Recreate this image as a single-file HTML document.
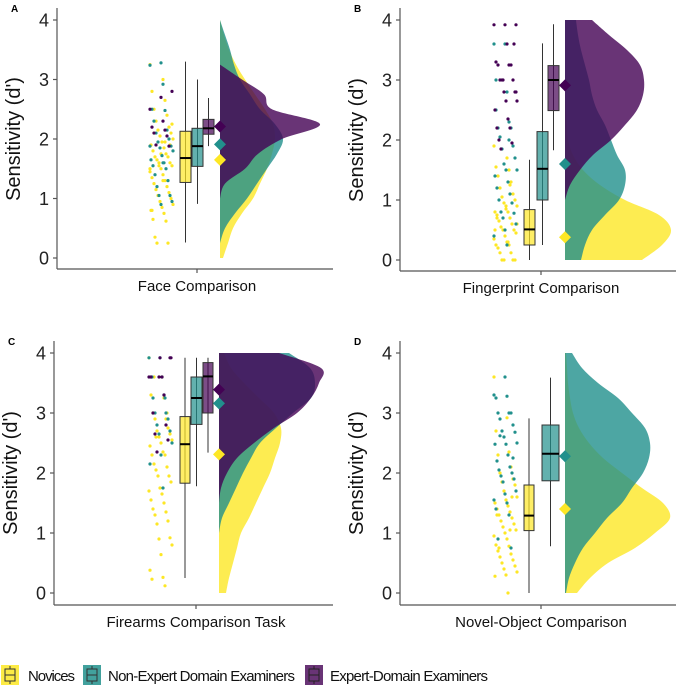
<!DOCTYPE html>
<html><head><meta charset="utf-8"><style>
html,body{margin:0;padding:0;background:#fff;}
svg{display:block;font-family:"Liberation Sans",Arial,sans-serif;}
</style></head><body>
<svg id="chart" width="685" height="689" viewBox="0 0 685 689" xmlns="http://www.w3.org/2000/svg">
<g id="panels"></g>
<g id="legend">
  <g>
    <rect x="1" y="665" width="18" height="20" fill="#FDE725" opacity="0.85"/>
    <rect x="5" y="669" width="10" height="12" fill="none" stroke="#333" stroke-width="1"/>
    <line x1="10" y1="666" x2="10" y2="669" stroke="#333"/><line x1="10" y1="681" x2="10" y2="684" stroke="#333"/><line x1="5" y1="675" x2="15" y2="675" stroke="#333"/>
    <text x="28" y="681" font-size="15" textLength="47" fill="#111">Novices</text>
  </g>
  <g>
    <rect x="83" y="665" width="18" height="20" fill="#21908C" opacity="0.85"/>
    <rect x="87" y="669" width="10" height="12" fill="none" stroke="#333" stroke-width="1"/>
    <line x1="92" y1="666" x2="92" y2="669" stroke="#333"/><line x1="92" y1="681" x2="92" y2="684" stroke="#333"/><line x1="87" y1="675" x2="97" y2="675" stroke="#333"/>
    <text x="108" y="681" font-size="15" textLength="187" fill="#111">Non-Expert Domain Examiners</text>
  </g>
  <g>
    <rect x="305" y="665" width="18" height="20" fill="#440154" opacity="0.8"/>
    <rect x="309" y="669" width="10" height="12" fill="none" stroke="#222" stroke-width="1"/>
    <line x1="314" y1="666" x2="314" y2="669" stroke="#222"/><line x1="314" y1="681" x2="314" y2="684" stroke="#222"/><line x1="309" y1="675" x2="319" y2="675" stroke="#222"/>
    <text x="330" y="681" font-size="15" textLength="158" fill="#111">Expert-Domain Examiners</text>
  </g>
</g>
</svg>
<script>
// ---- data ----
const groups = ['novices','non-expert','expert'];
const colors = ['#FDE725','#21908C','#440154'];
const densityGrid = [0,0.25,0.5,0.75,1,1.25,1.5,1.75,2,2.25,2.5,2.75,3,3.25,3.5,3.75,4];
const yTicks = [0,1,2,3,4];
const panelTitles = ['Face Comparison','Fingerprint Comparison','Firearms Comparison Task','Novel-Object Comparison'];
const panelLetters = ['A','B','C','D'];

// density widths (px) at densityGrid values
const densA_nov = [3,8,13,22,33,40,47,52,55,53,45,35,25,16,9,4,0];
const densA_non = [0,0,5,15,27,37,47,57,63,55,40,30,20,14,10,5,0];
const densA_exp = [0,0,0,0,0,5,25,38,62,100,52,44,22,0,0,0,0];
const densB_nov = [77,97,106,94,60,35,18,8,3,2,1,0,0,0,0,0,0];
const densB_non = [16,20,27,40,54,60,60,52,46,40,32,27,24,20,16,13,11];
const densB_exp = [0,0,0,0,0,5,15,28,46,60,72,78,79,75,62,44,27];
const densC_nov = [7,10,14,18,22,30,37,44,51,56,61,62,55,40,25,12,5];
const densC_non = [0,0,0,0,0,3,10,17,24,32,41,57,74,92,96,91,70];
const densC_exp = [0,0,0,0,0,0,0,2,8,18,35,55,78,92,100,102,60];
const densD_nov = [12,25,43,70,90,105,98,77,57,38,24,14,8,5,3,2,1];
const densD_non = [1,4,10,18,30,42,57,67,78,84,85,80,67,53,33,17,7];

// box stats [min,q1,median,q3,max]
const boxA = [[0.26,1.27,1.68,2.13,3.3],[0.91,1.54,1.88,2.18,3.0],[1.88,2.08,2.18,2.33,2.69]];
const boxB = [[0,0.25,0.51,0.84,1.67],[0.25,1.0,1.52,2.14,3.61],[1.83,2.49,3.0,3.24,3.93]];
const boxC = [[0.25,1.83,2.48,2.94,3.92],[1.78,2.81,3.25,3.6,3.92],[2.34,3.0,3.61,3.84,3.92]];
const boxD = [[0,1.04,1.29,1.8,2.91],[0.78,1.87,2.32,2.8,3.59]];

// group means
const meanA = [1.65,1.91,2.21];
const meanB = [0.38,1.6,2.91];
const meanC = [2.31,3.16,3.39];
const meanD = [1.40,2.28];

// raw points
const ptsA_nov = [3.25,3.0,2.8,2.65,2.5,2.4,2.3,2.2,2.15,2.1,2.05,2.0,1.95,1.9,1.85,1.8,1.75,1.7,1.7,1.65,1.6,1.55,1.55,1.5,1.45,1.4,1.35,1.3,1.25,1.2,1.15,1.1,1.05,1.0,0.95,0.9,0.85,0.8,0.75,0.65,0.62,0.35,0.25,0.25,1.9,1.6,2.25,1.75,1.5,1.3,0.8,1.95,2.1];
const ptsA_non = [3.28,3.24,2.92,2.5,2.48,2.3,2.15,2.1,2.0,1.95,1.88,1.85,1.8,1.72,1.65,1.6,1.55,1.5,1.4,1.3,1.2,1.05,1.05,0.95,0.9,1.88,1.6];
const ptsA_exp = [2.8,2.7,2.5,2.3,2.2,2.15,2.1,2.05,1.9,1.88];
const ptsB_nov = [1.9,1.7,1.55,1.5,1.4,1.3,1.2,1.1,1.05,1.0,0.95,0.9,0.85,0.8,0.8,0.75,0.7,0.65,0.6,0.55,0.5,0.5,0.45,0.4,0.35,0.3,0.25,0.25,0.2,0.12,0.12,0,0,0,0,0.6,0.9,0.5,0.3,0.7,1.25];
const ptsB_non = [3.6,3.6,2.8,2.5,2.3,2.2,2.2,2.05,1.9,1.85,1.7,1.6,1.5,1.5,1.4,1.3,1.2,1.1,1.0,0.95,0.8,0.78,0.7,0.6,0.5,0.4,0.25,3.0,2.0];
const ptsB_exp = [3.92,3.92,3.92,3.6,3.3,3.25,3.25,3.25,3.0,3.0,3.0,2.8,2.8,2.65,2.65,2.5,2.35,2.2,2.2,2.0,1.95,1.85,3.6,3.0,2.8];
const ptsC_nov = [3.92,3.6,3.3,3.25,3.0,2.9,2.9,2.75,2.7,2.65,2.6,2.55,2.5,2.45,2.35,2.3,2.3,2.15,2.1,2.05,1.95,1.95,1.85,1.75,1.7,1.65,1.55,1.5,1.4,1.35,1.3,1.2,1.15,0.92,0.9,0.8,0.64,0.38,0.26,0.23,0.12,3.6,3.0,2.6];
const ptsC_non = [3.92,3.92,3.6,3.6,3.3,3.25,3.0,3.0,2.9,2.8,2.7,2.65,2.5,2.3,2.15,1.75,3.6,3.25];
const ptsC_exp = [3.92,3.92,3.6,3.6,3.6,3.3,3.0,2.8,2.65,2.55,2.35,3.92,3.6];
const ptsD_nov = [3.6,2.92,2.7,2.35,2.3,2.1,2.0,1.9,1.85,1.8,1.7,1.6,1.55,1.5,1.45,1.4,1.35,1.3,1.25,1.2,1.15,1.1,1.05,1.0,0.95,0.9,0.8,0.78,0.7,0.65,0.6,0.55,0.5,0.45,0.4,0.35,0.3,0.28,0.0,1.3,1.05,0.75,1.6];
const ptsD_non = [3.6,3.3,3.28,3.25,3.0,3.0,3.0,2.9,2.8,2.7,2.68,2.6,2.5,2.48,2.48,2.3,2.2,2.1,2.05,2.0,1.95,1.9,1.85,1.7,1.65,1.55,1.5,1.4,1.3,0.9,0.75,2.62,2.25];

// ---- layout ----
const NS='http://www.w3.org/2000/svg';
const panels = [
 {axisX:57, tick:197, top:20, bot:258, xAxisY:269, right:333, dens:[densA_nov,densA_non,densA_exp], box:boxA, mean:meanA, pts:[ptsA_nov,ptsA_non,ptsA_exp], boxPos:[[-17,-6],[-5,6],[6,17]], base:23},
 {axisX:400, tick:541, top:20, bot:260, xAxisY:271, right:676, dens:[densB_nov,densB_non,densB_exp], box:boxB, mean:meanB, pts:[ptsB_nov,ptsB_non,ptsB_exp], boxPos:[[-17,-6],[-4,7],[7,18]], base:24},
 {axisX:54, tick:196, top:353, bot:593, xAxisY:605, right:333, dens:[densC_nov,densC_non,densC_exp], box:boxC, mean:meanC, pts:[ptsC_nov,ptsC_non,ptsC_exp], boxPos:[[-16,-6],[-5,6],[7,17]], base:23},
 {axisX:400, tick:541, top:353, bot:593, xAxisY:605, right:676, dens:[densD_nov,densD_non], box:boxD, mean:meanD, pts:[ptsD_nov,ptsD_non], boxPos:[[-17,-7],[1,18]], base:24}
];
const root=document.getElementById('panels');
function mk(tag,attrs,parent){const e=document.createElementNS(NS,tag);for(const k in attrs)e.setAttribute(k,attrs[k]);parent.appendChild(e);return e;}
function smoothPath(pts){
  let d='M'+pts[0][0]+','+pts[0][1];
  for(let i=0;i<pts.length-1;i++){
    const p0=pts[Math.max(0,i-1)],p1=pts[i],p2=pts[i+1],p3=pts[Math.min(pts.length-1,i+2)];
    const c1=[p1[0]+(p2[0]-p0[0])/6,p1[1]+(p2[1]-p0[1])/6];
    const c2=[p2[0]-(p3[0]-p1[0])/6,p2[1]-(p3[1]-p1[1])/6];
    d+=' C'+c1[0].toFixed(1)+','+c1[1].toFixed(1)+' '+c2[0].toFixed(1)+','+c2[1].toFixed(1)+' '+p2[0].toFixed(1)+','+p2[1].toFixed(1);
  }
  return d;
}
panels.forEach((P,pi)=>{
  const g=mk('g',{},root);
  
  
  const yS=v=>P.bot-(v/4)*(P.bot-P.top);
  const L=mk('text',{x:P.axisX-46,y:P.top-8,'font-size':10,'font-weight':'bold',fill:'#000'},g);
  L.textContent=panelLetters[pi];
  
  
  P.dens.forEach((arr,gi)=>{
    let first=-1,last=-1;
    arr.forEach((w,i)=>{if(w>0){if(first<0)first=i;last=i;}});
    const lo=Math.max(0,first-1),hi=Math.min(arr.length-1,last+1);
    const bx=P.tick+P.base;
    const pts=[];
    for(let i=lo;i<=hi;i++)pts.push([bx+arr[i],yS(densityGrid[i])]);
    let d=smoothPath(pts)+' L'+bx+','+yS(densityGrid[hi])+' L'+bx+','+yS(densityGrid[lo])+' Z';
    const p=mk('path',{d:d,fill:colors[gi],'fill-opacity':0.8,stroke:'none'},g);
    
    
  });
  P.pts.forEach((arr,gi)=>{
    arr.forEach((v,i)=>{
      const jx=P.tick-47+((i*37+gi*11)%24);
      const c=mk('circle',{cx:jx,cy:yS(v),r:1.6,fill:colors[gi]},g);
      
      
    });
  });
  P.box.forEach((b,gi)=>{
    const [x0,x1]=P.boxPos[gi].map(o=>P.tick+o);const cx=(x0+x1)/2;
    const bg=mk('g',{},g);
    
    
    mk('line',{x1:cx,x2:cx,y1:yS(b[0]),y2:yS(b[4]),stroke:'#333','stroke-width':1},bg);
    mk('rect',{x:x0,y:yS(b[3]),width:x1-x0,height:yS(b[1])-yS(b[3]),fill:colors[gi],'fill-opacity':0.7,stroke:'#333','stroke-width':1},bg);
    mk('line',{x1:x0,x2:x1,y1:yS(b[2]),y2:yS(b[2]),stroke:'#000','stroke-width':2},bg);
  });
  P.mean.forEach((m,gi)=>{
    const cx=P.tick+P.base,cy=yS(m),s=6;
    const dm=mk('polygon',{points:`${cx},${cy-s} ${cx+s},${cy} ${cx},${cy+s} ${cx-s},${cy}`,fill:colors[gi]},g);
    
    
  });
  const ya=mk('line',{x1:P.axisX,x2:P.axisX,y1:P.top-12,y2:P.xAxisY,stroke:'#555','stroke-width':1.2},g);
  
  
  const xa=mk('line',{x1:P.axisX,x2:P.right,y1:P.xAxisY,y2:P.xAxisY,stroke:'#555','stroke-width':1.2},g);
  
  
  mk('line',{x1:P.tick,x2:P.tick,y1:P.xAxisY,y2:P.xAxisY+4,stroke:'#555','stroke-width':1.2},g);
  yTicks.forEach(t=>{
    mk('line',{x1:P.axisX-4,x2:P.axisX,y1:yS(t),y2:yS(t),stroke:'#555','stroke-width':1.2},g);
    const tl=mk('text',{x:P.axisX-8,y:yS(t)+6.5,'font-size':18,'text-anchor':'end',fill:'#222'},g);
    tl.textContent=t;
    
    
  });
  const ymid=(P.top+P.bot)/2;
  const yt=mk('text',{x:P.axisX-37,y:ymid,'font-size':20,'text-anchor':'middle',fill:'#111',transform:`rotate(-90 ${P.axisX-37} ${ymid})`},g);
  yt.textContent="Sensitivity (d')";
  
  
  const xt=mk('text',{x:P.tick,y:P.xAxisY+22,'font-size':15,'text-anchor':'middle',fill:'#111'},g);
  xt.textContent=panelTitles[pi];
  
  
});
</script>
</body></html>
